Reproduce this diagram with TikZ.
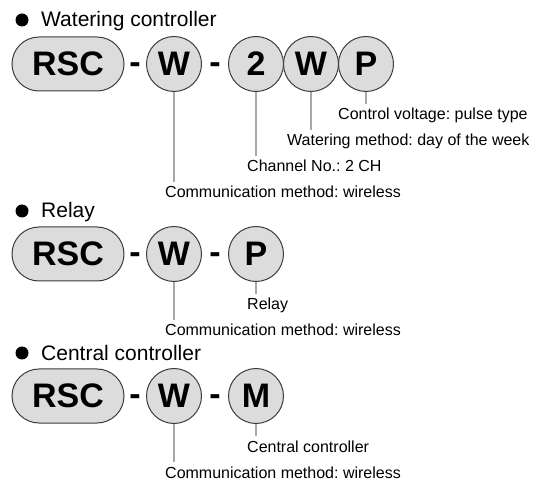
\documentclass[tikz,border=0pt]{standalone}
\usepackage{fontspec}
\setmainfont{Liberation Sans}
\usetikzlibrary{positioning, calc}
\definecolor{partfill}{RGB}{220,220,220}
\definecolor{partedge}{RGB}{60,60,60}
\definecolor{leadcolor}{RGB}{168,168,168}

\newcommand{\codefont}{\fontsize{34}{36}\selectfont\bfseries}
\newcommand{\notefont}{\fontsize{16}{18}\selectfont\frenchspacing}
\newcommand{\headfont}{\fontsize{21}{23}\selectfont}

\begin{document}
\begin{tikzpicture}[
    x=1pt, y=-1pt,
    pill/.style={rectangle, rounded corners=27pt, draw=partedge, fill=partfill, line width=1pt,
                 minimum width=112pt, minimum height=54pt, inner sep=0pt, font=\codefont},
    digit/.style={circle, draw=partedge, fill=partfill, line width=1pt,
                  minimum size=55pt, inner sep=0pt, font=\codefont},
    sep/.style={anchor=base, inner sep=0pt, font=\codefont},
    dot/.style={circle, fill=black, minimum size=13pt, inner sep=0pt},
    head/.style={anchor=base west, inner sep=0pt, font=\headfont},
    note/.style={anchor=base west, inner sep=0pt, font=\notefont},
    lead/.style={draw=leadcolor, line width=2pt, shorten >=4pt}
]
\useasboundingbox (0,0) rectangle (541,494);

% Watering controller
\node[dot] (wc_dot) at (22,20) {};
\node[head] (wc_head) at (41,27) {Watering controller};

\node[pill] (wc_rsc) at (68,64) {RSC};
\node[sep] (wc_d1) at (135,73.5) {-};
\node[digit] (wc_com) at (174,64) {W};
\node[sep] (wc_d2) at (215,73.5) {-};
\node[digit] (wc_ch) at (256,64) {2};
\node[digit] (wc_day) at (311,64) {W};
\node[digit] (wc_volt) at (366,64) {P};

\node[note] (wc_volt_lbl) at (338,120) {Control voltage: pulse type};
\node[note] (wc_day_lbl) at (287,146) {Watering method: day of the week};
\node[note] (wc_ch_lbl) at (247,172) {Channel No.: 2 CH};
\node[note] (wc_com_lbl) at (165,198) {Communication method: wireless};

\draw[lead] (wc_volt.south) -- (wc_volt.south |- wc_volt_lbl.north);
\draw[lead] (wc_day.south) -- (wc_day.south |- wc_day_lbl.north);
\draw[lead] (wc_ch.south) -- (wc_ch.south |- wc_ch_lbl.north);
\draw[lead] (wc_com.south) -- (wc_com.south |- wc_com_lbl.north);

% Relay
\node[dot] (rl_dot) at (22,211) {};
\node[head] (rl_head) at (41,218) {Relay};

\node[pill] (rl_rsc) at (68,254) {RSC};
\node[sep] (rl_d1) at (135,263.5) {-};
\node[digit] (rl_com) at (174,254) {W};
\node[sep] (rl_d2) at (215,263.5) {-};
\node[digit] (rl_type) at (256,254) {P};

\node[note] (rl_type_lbl) at (247,310) {Relay};
\node[note] (rl_com_lbl) at (165,336) {Communication method: wireless};

\draw[lead] (rl_type.south) -- (rl_type.south |- rl_type_lbl.north);
\draw[lead] (rl_com.south) -- (rl_com.south |- rl_com_lbl.north);

% Central controller
\node[dot] (cc_dot) at (22,353) {};
\node[head] (cc_head) at (41,360) {Central controller};

\node[pill] (cc_rsc) at (68,396) {RSC};
\node[sep] (cc_d1) at (135,405.5) {-};
\node[digit] (cc_com) at (174,396) {W};
\node[sep] (cc_d2) at (215,405.5) {-};
\node[digit] (cc_type) at (256,396) {M};

\node[note] (cc_type_lbl) at (247,452) {Central controller};
\node[note] (cc_com_lbl) at (165,478) {Communication method: wireless};

\draw[lead] (cc_type.south) -- (cc_type.south |- cc_type_lbl.north);
\draw[lead] (cc_com.south) -- (cc_com.south |- cc_com_lbl.north);

\end{tikzpicture}
\end{document}
